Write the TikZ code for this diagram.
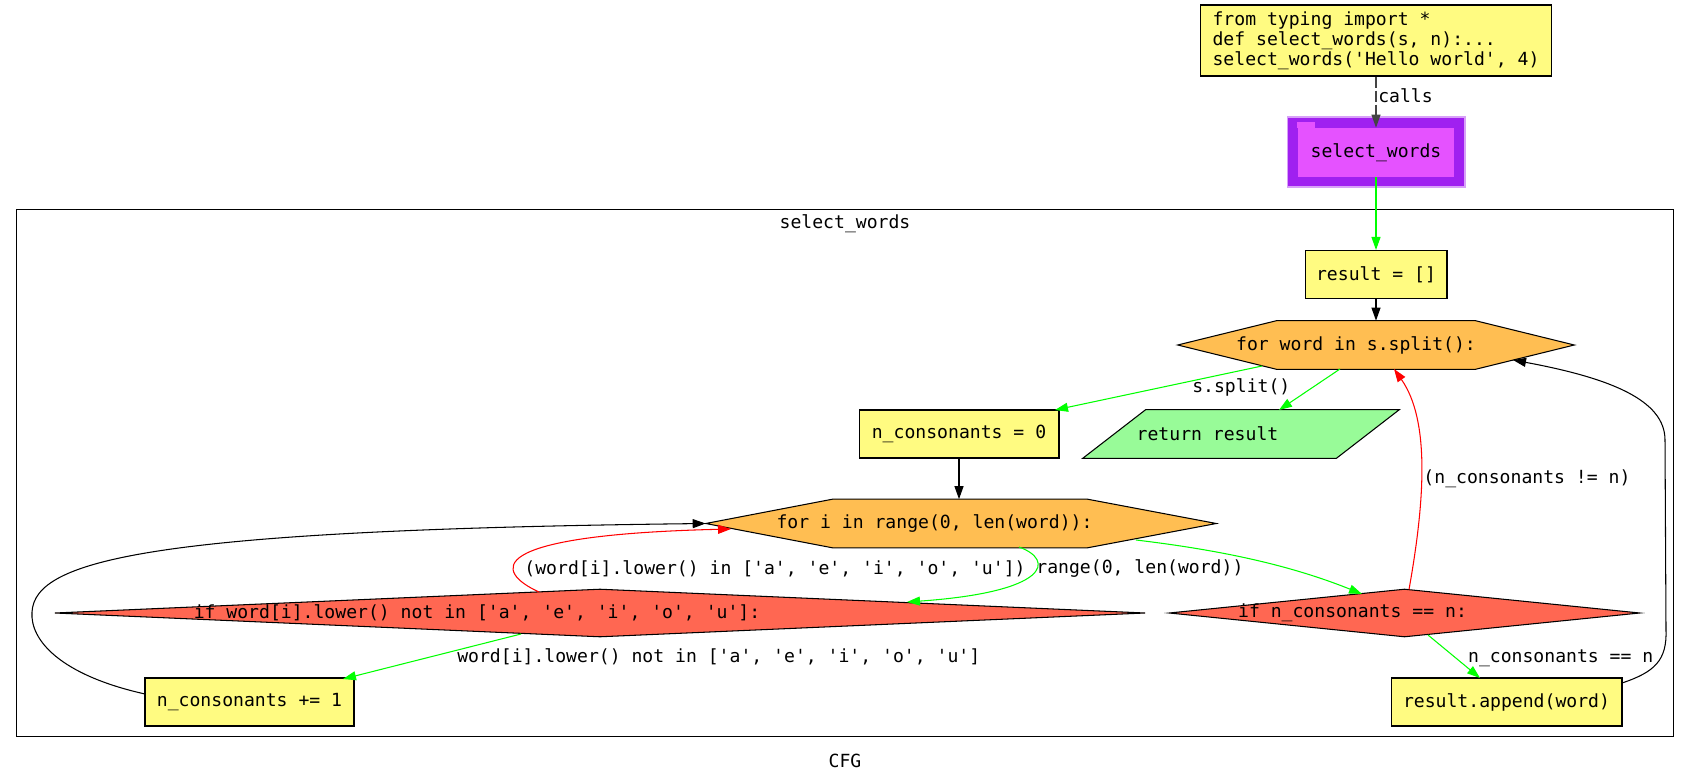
\documentclass[tikz,border=0pt]{standalone}
\usepackage{fontspec}
\newfontfamily\cfgmono{DejaVu Sans Mono}
\newcommand{\sq}{\textquotesingle}
\definecolor{stmtfill}{HTML}{FFFB81}
\definecolor{loopfill}{HTML}{FFBE52}
\definecolor{condfill}{HTML}{FF6752}
\definecolor{retfill}{HTML}{98FB98}
\definecolor{callout}{HTML}{A020F0}
\definecolor{calloutline}{HTML}{D8A0F8}
\definecolor{callin}{HTML}{E552FF}
\definecolor{truegreen}{HTML}{00FF00}
\definecolor{falsered}{HTML}{FF0000}
\definecolor{callline}{HTML}{444444}
\usetikzlibrary{calc, positioning, shapes.geometric, arrows.meta, backgrounds}

\begin{document}
\begin{tikzpicture}[x=0.02cm, y=-0.02cm,
  every node/.style={font=\cfgmono\fontsize{10.3}{11.4}\selectfont},
  block/.style={draw, fill=stmtfill, line width=0.6pt, minimum height=0.96cm, inner sep=0pt},
  hexcore/.style={minimum height=0.96cm, inner sep=0pt},
  hexline/.style={draw, fill=loopfill, line width=0.6pt},
  branch/.style={draw, fill=condfill, line width=0.6pt, diamond, minimum height=0.96cm, inner sep=0pt},
  plainarc/.style={-{Triangle[length=0.26cm, width=0.18cm]}, line width=0.6pt},
  truearc/.style={plainarc, color=truegreen},
  falsearc/.style={plainarc, color=falsered},
  arclabel/.style={text=black, inner sep=1pt},
]
\useasboundingbox (0,0) rectangle (1691,784);

\node[draw, fill=stmtfill, line width=0.6pt, minimum width=7.02cm, minimum height=1.42cm, align=left] (code) at (1376,40.5)
  {from typing import *\\def select\_words(s, n):...\\select\_words(\sq Hello world\sq, 4)};
\node[fill=callout, draw=calloutline, line width=0.6pt, minimum width=3.56cm, minimum height=1.40cm] (callee) at (1376,152) {};
\node[fill=callin, minimum width=3.14cm, minimum height=0.98cm, inner sep=0pt] (calleein) at (1376,152.5) {select\_words};
\fill[callin] (calleein.north west) rectangle ++(18,-6);

\node[draw, line width=0.6pt, minimum width=33.16cm, minimum height=10.56cm] (clus) at (845,473) {};
\node (clustitle) at (845,224) {select\_words};
\node (cfgtitle) at (845,761) {CFG};

\node[block, minimum width=2.84cm] (res) at (1376,274.5) {result = []};
\node[hexcore, minimum width=7.92cm, label={[xshift=-0.40cm]center:{for word in s.split():}}] (fw) at (1376,345) {};
\node[block, minimum width=4.0cm] (nc0) at (959,434) {n\_consonants = 0};
\node[hexcore, minimum width=6.32cm, label={[xshift=-0.67cm]center:{return result}}] (ret) at (1241,434) {};
\node[hexcore, minimum width=10.2cm, label={[xshift=-0.53cm]center:{for i in range(0, len(word)):}}] (fi) at (961,523.5) {};
\node[branch, minimum width=21.82cm,
      label={[xshift=-2.46cm]center:{if word[i].lower() not in [\sq a\sq, \sq e\sq, \sq i\sq, \sq o\sq, \sq u\sq]:}}] (ifw) at (600,613) {};
\node[branch, minimum width=9.42cm,
      label={[xshift=-1.04cm]center:{if n\_consonants == n:}}] (ifn) at (1404.5,613) {};
\node[block, minimum width=4.18cm] (nc1) at (249.5,702) {n\_consonants += 1};
\node[block, minimum width=4.62cm] (app) at (1506.5,702) {result.append(word)};

\begin{scope}[on background layer]
\path[hexline] (fw.west) -- ([xshift=1.98cm]fw.north west) -- ([xshift=-1.98cm]fw.north east) -- (fw.east)
  -- ([xshift=-1.98cm]fw.south east) -- ([xshift=1.98cm]fw.south west) -- cycle;
\path[hexline] (fi.west) -- ([xshift=2.54cm]fi.north west) -- ([xshift=-2.58cm]fi.north east) -- (fi.east)
  -- ([xshift=-2.58cm]fi.south east) -- ([xshift=2.54cm]fi.south west) -- cycle;
\path[draw, fill=retfill, line width=0.6pt] (ret.south west) -- ([xshift=1.26cm]ret.north west) -- (ret.north east)
  -- ([xshift=-1.26cm]ret.south east) -- cycle;
\end{scope}

\draw[plainarc, color=callline, dash pattern=on 0.22cm off 0.06cm] (code.south) -- (calleein.north)
  node[arclabel, pos=0.38, anchor=west] {calls};
\draw[truearc] (calleein.south) -- (res.north);
\draw[plainarc] (res.south) -- (fw.north);
\draw[truearc] ([shift={(-114,21)}]fw.center) -- ([shift={(96,-24)}]nc0.center)
  node[arclabel, pos=0.1, yshift=-0.35cm] {s.split()};
\draw[truearc] ([shift={(-36,24)}]fw.center) -- ([shift={(38,-24)}]ret.center);
\draw[plainarc] (nc0.south) -- (nc0.south |- fi.north);
\draw[truearc] ([shift={(58,23.5)}]fi.center) .. controls (1055,560) and (1050,592) .. ([shift={(307,-11)}]ifw.center)
  node[arclabel, pos=0.5, anchor=west, xshift=0.08cm, yshift=0.15cm] {range(0, len(word))};
\draw[truearc] ([shift={(175,16.5)}]fi.center) .. controls (1220,550) and (1290,565) .. ([shift={(-42.5,-19)}]ifn.center);
\draw[falsearc] ([shift={(-61,-21)}]ifw.center) .. controls (495,572) and (480,535) .. ([shift={(-230,5.5)}]fi.center)
  node[arclabel, pos=0.25, anchor=west, xshift=0.14cm, yshift=0.12cm] {(word[i].lower() in [\sq a\sq, \sq e\sq, \sq i\sq, \sq o\sq, \sq u\sq])};
\draw[truearc] ([shift={(-79,21)}]ifw.center) -- ([shift={(93.5,-23)}]nc1.center)
  node[arclabel, pos=0.5, anchor=west, xshift=0.46cm] {word[i].lower() not in [\sq a\sq, \sq e\sq, \sq i\sq, \sq o\sq, \sq u\sq]};
\draw[plainarc] ([shift={(-104.5,-8)}]nc1.center) .. controls (60,675) and (30,640) .. (32,612)
  .. controls (35,560) and (150,530) .. (fi.west);
\draw[falsearc] ([shift={(4.5,1)}]ifn.north) .. controls (1425,500) and (1430,420) .. ([shift={(18,24)}]fw.center)
  node[arclabel, pos=0.44, anchor=west] {(n\_consonants != n)};
\draw[truearc] ([shift={(23.5,22)}]ifn.center) -- ([shift={(-26.5,-24)}]app.center)
  node[arclabel, pos=0.535, anchor=west, xshift=0.2cm] {n\_consonants == n};
\draw[plainarc] ([shift={(115.5,-19)}]app.center) .. controls (1655,672) and (1667,660) .. (1666,630)
  -- (1665,440) .. controls (1665,400) and (1610,378) .. ([shift={(137,15)}]fw.center);
\end{tikzpicture}
\end{document}
